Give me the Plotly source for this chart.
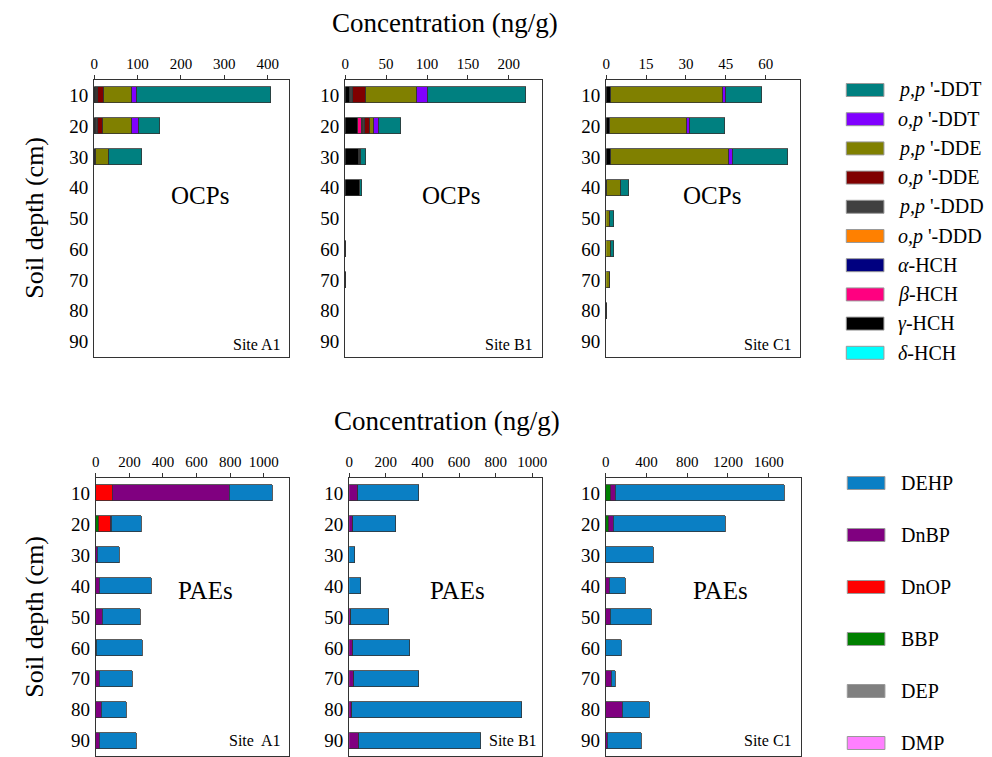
import plotly.graph_objects as go

depths = [10, 20, 30, 40, 50, 60, 70, 80, 90]

# ---------------- OCPs (stack order, left to right) ----------------
ocp_names = ["δ-HCH", "γ-HCH", "β-HCH", "α-HCH", "o,p'-DDD", "p,p'-DDD",
             "o,p'-DDE", "p,p'-DDE", "o,p'-DDT", "p,p'-DDT"]
ocp_labels = ["<i>δ</i>-HCH", "<i>γ</i>-HCH", "<i>β</i>-HCH", "<i>α</i>-HCH",
              "<i>o,p</i> '-DDD", "<i>p,p</i> '-DDD", "<i>o,p</i> '-DDE",
              "<i>p,p</i> '-DDE", "<i>o,p</i> '-DDT", "<i>p,p</i> '-DDT"]
ocp_colors = ["#00FFFF", "#000000", "#FF0080", "#000080", "#FF8000", "#404040",
              "#800000", "#808000", "#8000FF", "#008080"]

# Site A1 OCPs (ng/g), depths 10..90
A1_dHCH  = [0, 0, 0, 0, 0, 0, 0, 0, 0]
A1_gHCH  = [4, 5, 5, 1, 0, 0, 1, 1, 1]
A1_bHCH  = [0, 0, 0, 0, 0, 0, 0, 0, 0]
A1_aHCH  = [0, 0, 0, 0, 0, 0, 0, 0, 0]
A1_opDDD = [2, 0, 0, 0, 0, 0, 0, 0, 0]
A1_ppDDD = [4, 5, 0, 0, 0, 0, 0, 0, 0]
A1_opDDE = [14, 10, 0, 0, 0, 0, 0, 0, 0]
A1_ppDDE = [63, 68, 30, 0, 0, 0, 0, 0, 0]
A1_opDDT = [12, 15, 0, 0, 0, 0, 0, 0, 0]
A1_ppDDT = [308, 48, 76, 0, 0, 0, 0, 0, 0]

# Site B1 OCPs
B1_dHCH  = [0, 0, 0, 0, 0, 0, 0, 0, 0]
B1_gHCH  = [6, 16, 17, 18, 0, 1, 1, 0, 0]
B1_bHCH  = [0, 5, 1, 0, 0, 0, 0, 0, 0]
B1_aHCH  = [0, 0, 0, 0, 0, 0, 0, 0, 0]
B1_opDDD = [0, 1, 0, 0, 0, 0, 0, 0, 0]
B1_ppDDD = [4, 2, 0, 0, 0, 0, 0, 0, 0]
B1_opDDE = [16, 6, 2, 0, 0, 0, 0, 0, 0]
B1_ppDDE = [62, 5, 0, 0, 0, 0, 0, 0, 0]
B1_opDDT = [13, 6, 0, 0, 0, 0, 0, 0, 0]
B1_ppDDT = [120, 27, 6, 3, 0, 0, 0, 0, 0]

# Site C1 OCPs
C1_dHCH  = [0, 0, 0, 0, 0, 0, 0, 0, 0]
C1_gHCH  = [1.9, 1.6, 1.9, 0.2, 0, 0, 0, 0.5, 0]
C1_bHCH  = [0, 0, 0, 0, 0, 0, 0, 0, 0]
C1_aHCH  = [0, 0, 0, 0, 0, 0, 0, 0, 0]
C1_opDDD = [0, 0, 0, 0, 0, 0, 0, 0, 0]
C1_ppDDD = [0, 0, 0, 0, 0, 0, 0, 0, 0]
C1_opDDE = [0, 0, 0, 0, 0, 0, 0, 0, 0]
C1_ppDDE = [42.1, 29.0, 44.5, 5.6, 1.5, 1.9, 1.4, 0, 0]
C1_opDDT = [1.0, 1.0, 1.2, 0, 0, 0, 0, 0, 0]
C1_ppDDT = [13.6, 13.0, 20.7, 2.9, 1.5, 1.2, 0, 0, 0]

# ---------------- PAEs (stack order, left to right) ----------------
pae_names = ["DMP", "DEP", "BBP", "DnOP", "DnBP", "DEHP"]
pae_colors = ["#FF80FF", "#808080", "#008000", "#FF0000", "#800080", "#0A7FC4"]

A1_DMP  = [0, 0, 0, 0, 0, 0, 0, 0, 0]
A1_DEP  = [0, 0, 0, 0, 0, 0, 0, 0, 0]
A1_BBP  = [0, 20, 0, 0, 0, 0, 0, 0, 0]
A1_DnOP = [103, 70, 0, 0, 0, 0, 0, 0, 0]
A1_DnBP = [698, 5, 14, 24, 40, 8, 24, 34, 24]
A1_DEHP = [254, 177, 129, 311, 228, 270, 194, 149, 218]

B1_DMP  = [0, 0, 0, 0, 0, 0, 0, 0, 0]
B1_DEP  = [0, 0, 0, 0, 0, 0, 0, 0, 0]
B1_BBP  = [0, 0, 0, 0, 0, 0, 0, 0, 0]
B1_DnOP = [0, 0, 0, 0, 0, 0, 0, 0, 0]
B1_DnBP = [49, 20, 2, 0, 13, 20, 29, 18, 54]
B1_DEHP = [335, 236, 32, 65, 205, 313, 355, 928, 667]

C1_DMP  = [0, 0, 0, 0, 0, 0, 0, 0, 0]
C1_DEP  = [0, 0, 0, 0, 0, 0, 0, 0, 0]
C1_BBP  = [52, 32, 0, 0, 0, 0, 0, 0, 0]
C1_DnOP = [0, 0, 0, 0, 0, 0, 0, 0, 0]
C1_DnBP = [45, 42, 0, 42, 45, 0, 58, 166, 19]
C1_DEHP = [1659, 1107, 474, 156, 406, 153, 36, 263, 331]

ocp_sites = [
    [A1_dHCH, A1_gHCH, A1_bHCH, A1_aHCH, A1_opDDD, A1_ppDDD, A1_opDDE, A1_ppDDE, A1_opDDT, A1_ppDDT],
    [B1_dHCH, B1_gHCH, B1_bHCH, B1_aHCH, B1_opDDD, B1_ppDDD, B1_opDDE, B1_ppDDE, B1_opDDT, B1_ppDDT],
    [C1_dHCH, C1_gHCH, C1_bHCH, C1_aHCH, C1_opDDD, C1_ppDDD, C1_opDDE, C1_ppDDE, C1_opDDT, C1_ppDDT],
]
pae_sites = [
    [A1_DMP, A1_DEP, A1_BBP, A1_DnOP, A1_DnBP, A1_DEHP],
    [B1_DMP, B1_DEP, B1_BBP, B1_DnOP, B1_DnBP, B1_DEHP],
    [C1_DMP, C1_DEP, C1_BBP, C1_DnOP, C1_DnBP, C1_DEHP],
]

ocp_ranges = [[0, 450], [0, 240], [0, 73]]
ocp_ticks = [[0, 100, 200, 300, 400], [0, 50, 100, 150, 200], [0, 15, 30, 45, 60]]
pae_ranges = [[0, 1150], [0, 1055], [0, 1915]]
pae_ticks = [[0, 200, 400, 600, 800, 1000], [0, 200, 400, 600, 800, 1000],
             [0, 400, 800, 1200, 1600]]
site_labels_top = ["Site A1", "Site B1", "Site C1"]
site_labels_bot = ["Site\u00a0 A1", "Site B1", "Site C1"]

W, H = 992, 757
FONT = "Liberation Serif"

def fx(px):
    return px / W

def fy(py):
    return 1 - py / H

top_x_dom = [(91, 288), (344.3, 542.5), (607.7, 803.5)]
bot_x_dom = [(92.7, 287.5), (348.3, 543.3), (607.3, 804)]
top_y_dom = (80, 357)
bot_y_dom = (478, 756)

fig = go.Figure()
layout = {}
line_style = dict(color="#333333", width=0.8)

for i in range(3):
    n = i + 1
    xa = "x" if n == 1 else f"x{n}"
    ya = "y" if n == 1 else f"y{n}"
    for name, color, vals in zip(ocp_names, ocp_colors, ocp_sites[i]):
        fig.add_trace(go.Bar(x=vals, y=depths, orientation="h", name=name, width=5.2,
                             marker=dict(color=color, line=line_style),
                             xaxis=xa, yaxis=ya, showlegend=False))
    n2 = i + 4
    xa2 = f"x{n2}"
    ya2 = f"y{n2}"
    for name, color, vals in zip(pae_names, pae_colors, pae_sites[i]):
        fig.add_trace(go.Bar(x=vals, y=depths, orientation="h", name=name, width=5.2,
                             marker=dict(color=color, line=line_style),
                             xaxis=xa2, yaxis=ya2, showlegend=False))

def xaxis_def(dom, anchor, rng, ticks):
    return dict(domain=[fx(dom[0]), fx(dom[1])], anchor=anchor, side="top",
                range=rng, tickvals=ticks, showline=True, linecolor="#333333",
                linewidth=1.2, mirror=True, ticks="outside", ticklen=4,
                tickcolor="#333333", tickfont=dict(family=FONT, size=15, color="black"),
                showgrid=False, zeroline=False, fixedrange=True)

def yaxis_def(dom, anchor):
    return dict(domain=[fy(dom[1]), fy(dom[0])], anchor=anchor, range=[95, 5],
                tickvals=depths, showline=True, linecolor="#333333", linewidth=1.2,
                mirror=True, ticks="", tickfont=dict(family=FONT, size=19, color="black"),
                showgrid=False, zeroline=False, fixedrange=True, ticklabelstandoff=1)

for i in range(3):
    n = i + 1
    xk = "xaxis" if n == 1 else f"xaxis{n}"
    yk = "yaxis" if n == 1 else f"yaxis{n}"
    layout[xk] = xaxis_def(top_x_dom[i], "y" if n == 1 else f"y{n}", ocp_ranges[i], ocp_ticks[i])
    layout[yk] = yaxis_def(top_y_dom, "x" if n == 1 else f"x{n}")
    n2 = i + 4
    layout[f"xaxis{n2}"] = xaxis_def(bot_x_dom[i], f"y{n2}", pae_ranges[i], pae_ticks[i])
    layout[f"yaxis{n2}"] = yaxis_def(bot_y_dom, f"x{n2}")

annotations = []
shapes = []

def ann(text, x, y, size, xanchor="center", yanchor="middle", angle=0):
    annotations.append(dict(text=text, x=fx(x), y=fy(y), xref="paper", yref="paper",
                            showarrow=False, xanchor=xanchor, yanchor=yanchor,
                            textangle=angle, font=dict(family=FONT, size=size, color="black")))

ann("Concentration (ng/g)", 445, 23, 27)
ann("Concentration (ng/g)", 447, 421, 27)
ann("Soil depth (cm)", 30, 218, 26, angle=-90)
ann("Soil depth (cm)", 30, 617, 26, angle=-90)

for cx in [198, 451, 714]:
    ann("OCPs", cx, 195, 25)
for cx in [203, 458, 723]:
    ann("PAEs", cx, 590, 25)

for i, right in enumerate([282, 536, 797]):
    ann(site_labels_top[i], right, 344, 16, xanchor="right")
for i, right in enumerate([282, 540, 797]):
    ann(site_labels_bot[i], right, 740, 16, xanchor="right")

# Legends (drawn from the series names / colours)
for k, (lab, col) in enumerate(zip(ocp_labels[::-1], ocp_colors[::-1])):
    cy = 90 + 29.2 * k
    shapes.append(dict(type="rect", xref="paper", yref="paper",
                       x0=fx(850), x1=fx(888), y0=fy(cy + 6.5), y1=fy(cy - 6.5),
                       fillcolor=col, line=dict(color="#999999", width=1)))
    ann(lab, 900, cy, 20, xanchor="left")

for k, (lab, col) in enumerate(zip(pae_names[::-1], pae_colors[::-1])):
    cy = 483 + 52 * k
    shapes.append(dict(type="rect", xref="paper", yref="paper",
                       x0=fx(851), x1=fx(889), y0=fy(cy + 6.5), y1=fy(cy - 6.5),
                       fillcolor=col, line=dict(color="#999999", width=1)))
    ann(lab, 903, cy, 20, xanchor="left")

fig.update_layout(**layout)
fig.update_layout(width=W, height=H, margin=dict(l=0, r=0, t=0, b=0),
                  barmode="stack", bargap=0, plot_bgcolor="white", paper_bgcolor="white",
                  annotations=annotations, shapes=shapes, showlegend=False,
                  font=dict(family=FONT, color="black"))

fig.write_html("out.html", config={"displayModeBar": False},
               post_script="document.body.style.margin='0';")
